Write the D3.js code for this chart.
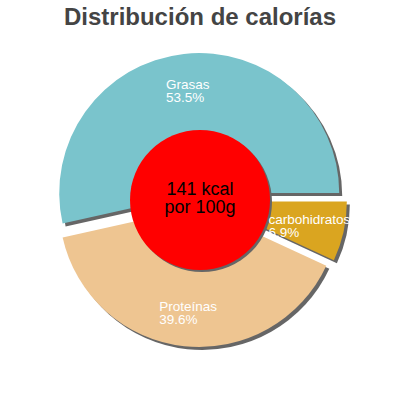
<!DOCTYPE html>
<html>
<head>
<meta charset="utf-8">
<script src="https://cdn.jsdelivr.net/npm/d3@7"></script>
<style>
  body { margin: 0; background: #fff; }
  svg { display: block; font-family: "Liberation Sans", Arial, sans-serif; }
</style>
</head>
<body>
<div id="chart"></div>
<script>
/* ===== DATA ===== */
const categories = ["carbohidratos", "Proteínas", "Grasas"];
const percents = [6.9, 39.6, 53.5];
const sliceColors = ["#DAA520", "#EEC591", "#7AC4CC"];
const centerLines = ["141 kcal", "por 100g"];
const chartTitle = "Distribución de calorías";

/* ===== DIMENSIONS ===== */
const width = 400;
const height = 400;
const cx = 200;
const cy = 200;
const radius = 140;
const innerRadius = 70;
const explode = 7;
const shadowOffset = 3;

const svg = d3.select("#chart")
    .append("svg")
    .attr("width", width)
    .attr("height", height);

svg.append("text")
    .attr("x", width / 2)
    .attr("y", 25)
    .attr("text-anchor", "middle")
    .attr("font-size", 24)
    .attr("font-weight", "bold")
    .attr("fill", "#444")
    .text(chartTitle);

/* ===== PIE ===== */
const slices = categories.map((name, i) => ({ name, value: percents[i], color: sliceColors[i] }));

const pie = d3.pie()
    .sort(null)
    .value(d => d.value)
    .startAngle(Math.PI / 2)
    .endAngle(Math.PI / 2 + 2 * Math.PI);

const arcs = pie(slices);
const arc = d3.arc().innerRadius(0).outerRadius(radius);

function offsetOf(d, r) {
    const mid = (d.startAngle + d.endAngle) / 2;
    return [Math.sin(mid) * r, -Math.cos(mid) * r];
}

const g = svg.append("g").attr("transform", `translate(${cx},${cy})`);

// shadows first
g.append("g")
    .selectAll("path")
    .data(arcs)
    .enter()
    .append("path")
    .attr("d", arc)
    .attr("fill", "#666")
    .attr("transform", d => {
        const [ox, oy] = offsetOf(d, explode);
        return `translate(${ox + shadowOffset},${oy + shadowOffset})`;
    });

g.append("g")
    .selectAll("path")
    .data(arcs)
    .enter()
    .append("path")
    .attr("d", arc)
    .attr("fill", d => d.data.color)
    .attr("transform", d => {
        const [ox, oy] = offsetOf(d, explode);
        return `translate(${ox},${oy})`;
    });

/* ===== CENTER ===== */
g.append("circle")
    .attr("r", innerRadius)
    .attr("cx", 2)
    .attr("cy", 2)
    .attr("fill", "#666");

g.append("circle")
    .attr("r", innerRadius)
    .attr("fill", "#FF0000");

g.append("g")
    .selectAll("text")
    .data(centerLines)
    .enter()
    .append("text")
    .attr("text-anchor", "middle")
    .attr("y", (d, i) => -5 + i * 18)
    .attr("font-size", 18)
    .attr("fill", "#000")
    .text(d => d);

/* ===== LABELS ===== */
const labelGroup = g.append("g")
    .attr("fill", "#fff")
    .attr("font-size", 13.5);

arcs.forEach(d => {
    const [px, py] = offsetOf(d, 112);
    const t = labelGroup.append("text");
    t.append("tspan").attr("y", py).text(d.data.name);
    t.append("tspan").attr("y", py + 13).text(d.data.value + "%");
    let maxW = 0;
    t.selectAll("tspan").each(function () {
        maxW = Math.max(maxW, this.getComputedTextLength());
    });
    t.selectAll("tspan").attr("x", px - maxW / 2);
});
</script>
</body>
</html>
